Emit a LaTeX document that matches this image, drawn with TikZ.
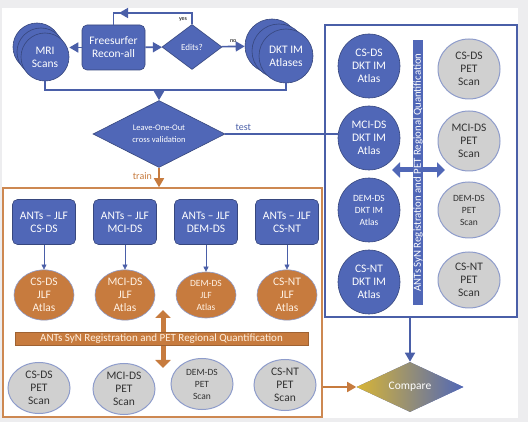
\documentclass[tikz,border=0pt]{standalone}
\usepackage{fontspec}
\setmainfont{Carlito}
\usetikzlibrary{positioning,shapes.geometric,arrows.meta}

\definecolor{dsblue}{HTML}{5067B7}
\definecolor{dsline}{HTML}{4A5FA8}
\definecolor{dsorange}{HTML}{C77B3E}
\definecolor{petgray}{HTML}{D0D0D0}
\definecolor{petedge}{HTML}{8E9CCB}
\definecolor{cmpgold}{HTML}{D8B536}
\definecolor{bggray}{HTML}{EDEDEF}

\tikzset{
	base/.style={align=center, inner sep=1pt, font=\fontsize{11.5}{13}\selectfont},
	stack/.style={base, circle, fill=dsblue, draw=dsline!75!black, line width=0.6pt, text=white},
	bluebox/.style={base, rectangle, rounded corners=5pt, fill=dsblue, draw=dsline!75!black, line width=0.6pt, text=white, minimum width=63pt, minimum height=45pt},
	decision/.style={base, diamond, fill=dsblue, draw=dsline!75!black, line width=0.6pt, text=white, aspect=1.6},
	jlf/.style={base, ellipse, fill=dsorange, draw=petedge, line width=0.6pt, text=white!90!orange, minimum width=60pt, minimum height=46pt},
	pet/.style={base, ellipse, fill=petgray, draw=petedge, line width=1pt, text=black!80, minimum width=62pt, minimum height=51pt},
	dkt/.style={base, ellipse, fill=dsblue, draw=dsline!75!black, line width=0.6pt, text=white, minimum width=62pt, minimum height=64pt},
	small/.style={font=\fontsize{9.5}{12}\selectfont},
	flow/.style={draw=dsline, line width=1.6pt, -{Triangle[length=9pt,width=10pt]}},
	link/.style={draw=dsline, line width=1.6pt},
	thinflow/.style={draw=dsline, line width=0.6pt, -{Triangle[length=5pt,width=5pt]}},
	orflow/.style={draw=dsorange, line width=1.6pt, -{Triangle[length=9pt,width=10pt]}},
	bigarrow/.style={line width=5pt, {Triangle[length=8pt,width=15pt]}-{Triangle[length=8pt,width=15pt]}},
}

\begin{document}
\begin{tikzpicture}[x=1pt, y=-1pt, on grid]
	\fill[bggray] (0,0) rectangle (528,422);
	\fill[white] (2,8) rectangle (518,418);
	\useasboundingbox (0,0) rectangle (528,422);

	% preprocessing
	\foreach \s in {2,1}
		\node[stack, minimum size=48pt] (mri_\s) at (45-4*\s,57-5*\s) {};
	\node[stack, minimum size=48pt] (mri) at (45,57) {MRI\\Scans};
	\node[bluebox] (fs) at (113.5,47.5) {Freesurfer\\Recon-all};
	\node[decision, minimum width=60pt, minimum height=45pt, font=\fontsize{9}{10}\selectfont] (edits) at (192,47) {Edits?};
	\foreach \s in {2,1}
		\node[stack, minimum size=54pt] (dkt_\s) at (286-7*\s,56-5*\s) {};
	\node[stack, minimum size=54pt] (dkt) at (286,56) {DKT IM\\Atlases};

	\node[decision, minimum width=132pt, minimum height=67pt, aspect=2, font=\fontsize{8.5}{12}\selectfont] (loo) at (159,134) {Leave-One-Out\\cross validation};
	\coordinate (merge) at (loo.north |- 0,90);

	\path[flow] (fs.west) -- (fs.west -| mri.east);
	\path[flow] (fs) -- (edits);
	\path[flow] (edits) -- node[above, text=black, font=\fontsize{6}{7}\selectfont] {no} (dkt_2);
	% yes loop back to freesurfer
	\coordinate (yes_turn) at (113.5,13);
	\coordinate (yes_up) at (192,13);
	\coordinate (yes_tip) at (119,13);
	\draw[dsline, line width=1.6pt] (edits.north) -- (yes_up) -- (yes_turn) -- (fs.north);
	\draw[dsline, line width=1.6pt, -{Triangle[length=9pt,width=10pt]}] (yes_up) -- (yes_tip);
	\node[text=black, font=\fontsize{6}{7}\selectfont] (yes_lbl) at (183,20) {yes};
	\path[link] (mri.south) |- (dkt.south |- merge) -- (dkt.south);
	\path[flow] (merge) -- (loo.north);

	% test branch
	\node[draw=dsline, line width=1.5pt, minimum width=192pt, minimum height=292pt] (qbox) at (421,171) {};
	\node[dkt] (dkt_cs) at (369,66) {CS-DS\\DKT IM\\Atlas};
	\node[dkt] (dkt_mci) [below=72pt of dkt_cs] {MCI-DS\\DKT IM\\Atlas};
	\node[dkt, small] (dkt_dem) [below=72pt of dkt_mci] {DEM-DS\\DKT IM\\Atlas};
	\node[dkt] (dkt_nt) [below=72pt of dkt_dem] {CS-NT\\DKT IM\\Atlas};
	\node[pet, minimum height=60pt] (rpet_cs) [right=100pt of dkt_cs, yshift=-3pt] {CS-DS\\PET\\Scan};
	\node[pet, minimum height=60pt] (rpet_mci) [right=100pt of dkt_mci, yshift=-3pt] {MCI-DS\\PET\\Scan};
	\node[pet, small, minimum height=56pt] (rpet_dem) [right=100pt of dkt_dem] {DEM-DS\\PET\\Scan};
	\node[pet, minimum height=56pt] (rpet_nt) [right=100pt of dkt_nt, yshift=2pt] {CS-NT\\PET\\Scan};
	\coordinate (swap_l) at (392,170);
	\coordinate (swap_r) at (445,170);
	\path[bigarrow, draw=dsblue] (swap_l) -- (swap_r);
	\node[base, rotate=90, fill=dsblue, text=white, inner sep=0pt, minimum width=265pt, minimum height=10pt, font=\fontsize{10.8}{10}\selectfont] (vbar) at (418,172.5) {ANTs SyN Registration and PET Regional Quantification};
	\path[link, line width=1.1pt] (loo.east) -- node[pos=0.16, above, text=dsline, font=\fontsize{10}{10}\selectfont] {test} (dkt_mci.west |- loo.east);

	% train branch
	\node[draw=dsorange!90!white, line width=1.5pt, minimum width=319pt, minimum height=229pt] (tbox) at (162.5,302.5) {};
	\path[orflow] (loo.south) -- node[pos=0.45, left=3pt, text=dsorange, font=\fontsize{10}{10}\selectfont] {train} (loo.south |- tbox.north);
	\node[bluebox] (ants_1) at (44,222) {ANTs – JLF\\CS-DS};
	\node[bluebox] (ants_2) [right=81pt of ants_1] {ANTs – JLF\\MCI-DS};
	\node[bluebox] (ants_3) [right=81pt of ants_2] {ANTs – JLF\\DEM-DS};
	\node[bluebox] (ants_4) [right=81pt of ants_3] {ANTs – JLF\\CS-NT};
	\node[jlf] (jlf_1) [below=73pt of ants_1] {CS-DS\\JLF\\Atlas};
	\node[jlf] (jlf_2) [below=73pt of ants_2] {MCI-DS\\JLF\\Atlas};
	\node[jlf, small] (jlf_3) [below=73pt of ants_3] {DEM-DS\\JLF\\Atlas};
	\node[jlf] (jlf_4) [below=73pt of ants_4] {CS-NT\\JLF\\Atlas};
	\foreach \i in {1,...,4}
		\path[thinflow] (ants_\i) -- (jlf_\i);
	\node[pet] (pet_1) [below=93pt of jlf_1, xshift=-5pt] {CS-DS\\PET\\Scan};
	\node[pet] (pet_2) [below=94pt of jlf_2, xshift=-1pt] {MCI-DS\\PET\\Scan};
	\node[pet, small] (pet_3) [below=89pt of jlf_3, xshift=-4pt] {DEM-DS\\PET\\Scan};
	\node[pet] (pet_4) [below=90pt of jlf_4, xshift=-2pt] {CS-NT\\PET\\Scan};
	\coordinate (reg_top) at (163,310);
	\coordinate (reg_bot) at (163,368);
	\path[bigarrow, draw=dsorange] (reg_top) -- (reg_bot);
	\node[base, fill=dsorange, draw=dsorange!80!black, line width=0.4pt, text=white!88!orange, inner sep=0pt, minimum width=293pt, minimum height=13pt, font=\fontsize{11}{10}\selectfont] (hbar) at (161.5,338.5) {ANTs SyN Registration and PET Regional Quantification};

	% comparison
	\node[decision, minimum width=107pt, minimum height=50pt, aspect=2.1, left color=cmpgold, right color=dsblue, draw=none] (cmp) at (410,387) {Compare};
	\path[flow] (cmp.north |- qbox.south) -- (cmp.north);
	\path[orflow] (cmp.west -| tbox.east) -- (cmp.west);
\end{tikzpicture}
\end{document}
